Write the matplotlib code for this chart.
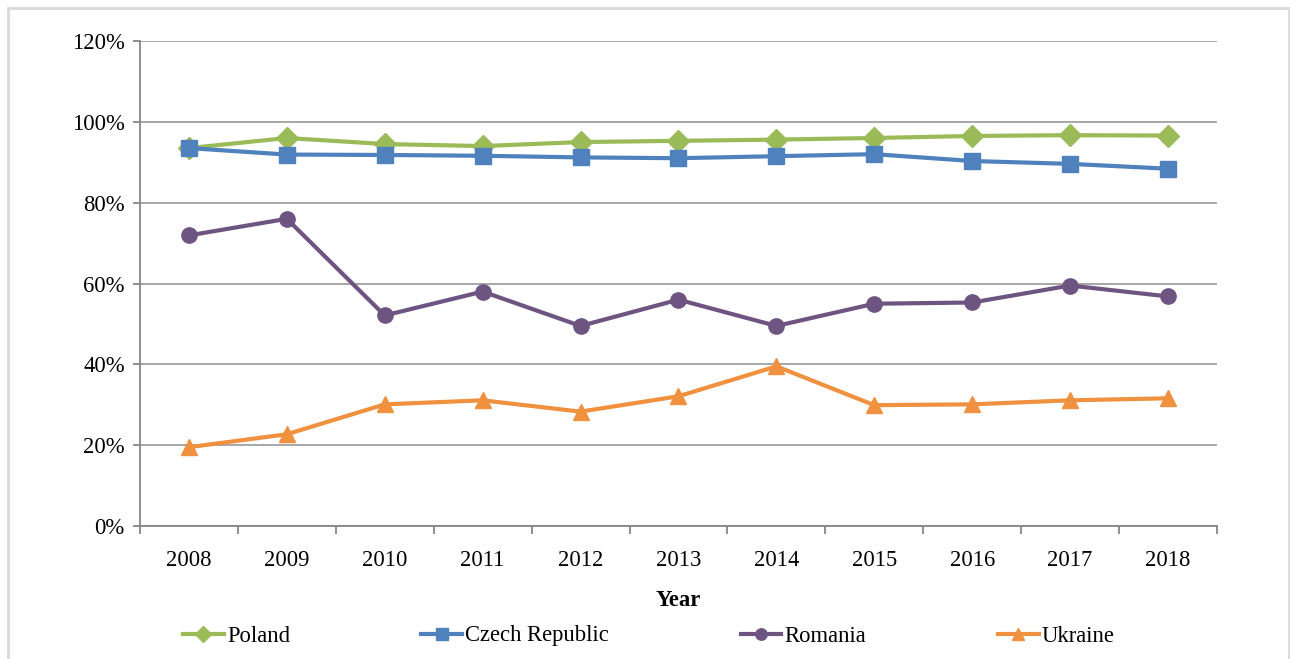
import matplotlib
matplotlib.use("Agg")
import matplotlib.pyplot as plt
from matplotlib.patches import Rectangle
from matplotlib.ticker import FuncFormatter

years = ["2008", "2009", "2010", "2011", "2012", "2013", "2014", "2015", "2016", "2017", "2018"]
poland = [93.5, 96.0, 94.5, 94.0, 95.0, 95.3, 95.6, 96.0, 96.5, 96.7, 96.6]
czech = [93.5, 91.9, 91.8, 91.6, 91.2, 91.0, 91.5, 92.0, 90.3, 89.6, 88.4]
romania = [71.9, 76.0, 52.1, 58.0, 49.5, 56.0, 49.5, 55.0, 55.3, 59.5, 56.8]
ukraine = [19.5, 22.7, 30.1, 31.1, 28.3, 32.1, 39.5, 29.9, 30.1, 31.1, 31.6]

plt.rcParams['font.family'] = ['Liberation Serif', 'DejaVu Serif']
fs = 16.3

fig = plt.figure(figsize=(12.9, 6.59), dpi=100)
ax = fig.add_axes([0.1085, 0.2018, 0.8349, 0.736])

# rahmen um die ganze grafik (ohne unteren rand)
fig.patches.append(Rectangle((8 / 1290, -0.01), 1281 / 1290, 1 - 8 / 659 + 0.01,
                             transform=fig.transFigure, fill=False,
                             edgecolor='#d9d9d9', linewidth=2))

x = list(range(len(years)))
ax.plot(x, poland, color='#9BBB59', lw=3, marker='D', markersize=11, label='Poland')
ax.plot(x, czech, color='#4F81BD', lw=3, marker='s', markersize=12, label='Czech Republic')
ax.plot(x, romania, color='#6E5581', lw=3, marker='o', markersize=11, label='Romania')
ax.plot(x, ukraine, color='#F0913F', lw=3, marker='^', markersize=12, label='Ukraine')

ax.set_xlim(-0.5, len(years) - 0.5)
ax.set_ylim(0, 120)
ax.set_yticks(range(0, 121, 20))
ax.yaxis.set_major_formatter(FuncFormatter(lambda v, p: f'{int(v)}%'))
ax.set_xticks(x)
ax.set_xticklabels(years)
ax.set_xticks([i - 0.5 for i in range(len(years) + 1)], minor=True)
ax.tick_params(axis='x', which='major', length=0, pad=17, labelsize=fs)
ax.tick_params(axis='x', which='minor', length=6, color='#868686', width=1.3)
ax.tick_params(axis='y', length=5, color='#868686', width=1.3, labelsize=fs, pad=6)

ax.grid(axis='y', color='#A0A0A0', lw=1.3)
ax.set_axisbelow(True)
for s in ['top', 'right']:
    ax.spines[s].set_visible(False)
ax.spines['left'].set_color('#868686')
ax.spines['bottom'].set_color('#868686')
ax.spines['left'].set_linewidth(1.3)
ax.spines['bottom'].set_linewidth(1.3)

ax.set_xlabel('Year', fontsize=fs, fontweight='bold', labelpad=14)

fig.legend(loc='center', bbox_to_anchor=(0.503, 1 - 636 / 659), ncol=4, frameon=False,
           fontsize=fs, handlelength=1.8, handletextpad=0.15, columnspacing=5.8,
           markerscale=0.75)

fig.savefig('out.png', dpi=100)
